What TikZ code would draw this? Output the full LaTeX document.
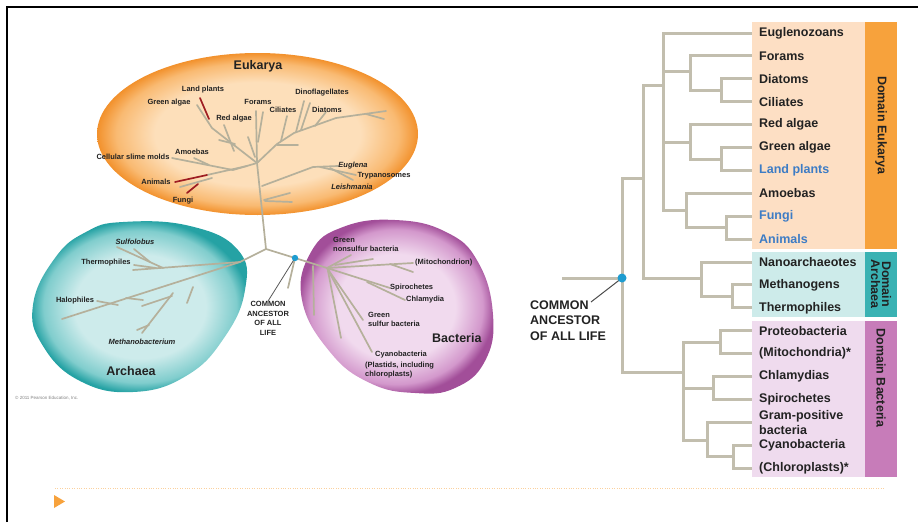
\documentclass[tikz,border=0pt]{standalone}
\usepackage{fontspec}
\setmainfont{Liberation Sans}
\usetikzlibrary{arrows.meta}

\definecolor{branch}{HTML}{B5B09B}
\definecolor{cladeline}{HTML}{C2BEAE}
\definecolor{redbranch}{HTML}{9E1C22}
\definecolor{eukIn}{HTML}{FDDFBA}
\definecolor{eukMid}{HTML}{F9BA72}
\definecolor{eukOut}{HTML}{F2912C}
\definecolor{arcIn}{HTML}{CDEBEB}
\definecolor{arcMid}{HTML}{80CDCD}
\definecolor{arcOut}{HTML}{25A2A4}
\definecolor{bacIn}{HTML}{F1DAEE}
\definecolor{bacMid}{HTML}{D398CC}
\definecolor{bacOut}{HTML}{A24E99}
\definecolor{eukBox}{HTML}{FDDFC4}
\definecolor{eukBar}{HTML}{F7A23C}
\definecolor{arcBox}{HTML}{CDEBEA}
\definecolor{arcBar}{HTML}{3AB2B3}
\definecolor{bacBox}{HTML}{EFDBEE}
\definecolor{bacBar}{HTML}{C77CB9}
\definecolor{leafblue}{HTML}{3D7CC5}
\definecolor{ancdot}{HTML}{1E9CD0}
\definecolor{inkgray}{HTML}{222222}

\pgfdeclareradialshading{eukshade}{\pgfpoint{0bp}{0bp}}{color(0bp)=(eukIn); color(16bp)=(eukIn); color(22bp)=(eukMid); color(25bp)=(eukOut); color(50bp)=(eukOut)}
\pgfdeclareradialshading{arcshade}{\pgfpoint{0bp}{0bp}}{color(0bp)=(arcIn); color(15bp)=(arcIn); color(22bp)=(arcMid); color(25bp)=(arcOut); color(50bp)=(arcOut)}
\pgfdeclareradialshading{bacshade}{\pgfpoint{0bp}{0bp}}{color(0bp)=(bacIn); color(15bp)=(bacIn); color(22bp)=(bacMid); color(25bp)=(bacOut); color(50bp)=(bacOut)}

\begin{document}
\begin{tikzpicture}[x=1pt,y=-1pt,
    twig/.style={branch,line width=1.7pt,line cap=round},
    redtwig/.style={redbranch,line width=1.7pt,line cap=round},
    clade/.style={cladeline,line width=3pt},
    lbl/.style={inner sep=0pt,text=inkgray,font=\fontsize{7.5}{9}\selectfont\bfseries},
    ital/.style={inner sep=0pt,text=inkgray,font=\fontsize{7.5}{9}\selectfont\bfseries\itshape},
    big/.style={inner sep=0pt,text=inkgray,font=\fontsize{12.5}{14}\selectfont\bfseries},
    leaf/.style={anchor=west,inner xsep=7pt,inner ysep=0pt,text=inkgray,
        font=\fontsize{12.5}{14}\selectfont\bfseries},
    domaintag/.style={rotate=-90,align=center,inner sep=0pt,text=inkgray,
        font=\fontsize{12.5}{11}\selectfont\bfseries}]
    \useasboundingbox (0,0) rectangle (918,522);

    % Frame
    \draw[line width=1.6pt] (7,522) -- (7,6.8) -- (918,6.8);

    % Domain blobs
    \shade[shading=eukshade] (257.5,134) ellipse [x radius=160.5,y radius=81];
    \shade[shading=arcshade] plot[smooth cycle,tension=0.75] coordinates
        {(123,222) (190,226) (238,250) (245,290) (224,338) (186,376)
         (133,392) (80,381) (43,346) (33,305) (55,258) (86,232)};
    \shade[shading=bacshade] plot[smooth cycle,tension=0.75] coordinates
        {(302,300) (311,252) (343,227) (395,220) (446,232) (478,262)
         (493,315) (485,361) (455,388) (415,393) (370,383) (330,352)};

    % Unrooted tree
    \coordinate (hub) at (266,249);
    \coordinate (eukRoot) at (257,163);
    \coordinate (arcRoot) at (240,262);
    \coordinate (bacRoot) at (327,268);
    \coordinate (dotL) at (295,258);
    \draw[twig] (hub) -- (eukRoot);
    \draw[twig] (hub) -- (arcRoot);
    \draw[twig] (hub) -- (dotL);
    \draw[twig] (dotL) -- (bacRoot);
    \draw[twig] (dotL) -- (288,288);

    % Eukarya branches
    \draw[twig] (eukRoot) -- (256,111);
    \draw[twig] (258,142) -- (263,112);
    \draw[twig] (255,157) -- (248,137);
    \draw[twig] (eukRoot) -- (212,128) -- (197,105);
    \draw[twig] (234,151) -- (224,125);
    \draw[twig] (219,140) -- (235,144);
    \draw[redtwig] (209,119) -- (200,98);
    \draw[twig] (eukRoot) -- (277,144) -- (294,133) -- (336,118) -- (386,111);
    \draw[twig] (281,141) -- (287,116);
    \draw[twig] (277,145) -- (298,145);
    \draw[twig] (296,132) -- (304,101);
    \draw[twig] (301,130) -- (310,103);
    \draw[twig] (315,126) -- (326,112);
    \draw[twig] (366,114) -- (384,119);
    \draw[twig] (262,186) -- (313,167) -- (338,166);
    \draw[twig] (320,167) -- (356,175);
    \draw[twig] (330,168) -- (353,180);
    \draw[twig] (264,200) -- (290,193);
    \draw[twig] (265,201) -- (292,202);
    \draw[twig] (eukRoot) -- (233,170) -- (172,158);
    \draw[twig] (209,165) -- (194,158);
    \draw[twig] (247,166) -- (207,175);
    \draw[redtwig] (207,175) -- (175,182);
    \draw[twig] (212,178) -- (180,187);
    \draw[redtwig] (198,184) -- (187,193);

    % Archaea branches
    \draw[twig] (arcRoot) -- (133,270);
    \draw[twig] (163,268) -- (117,247);
    \draw[twig] (150,262) -- (134,249);
    \draw[twig] (156,268) -- (134,265);
    \draw[twig] (arcRoot) -- (62,319);
    \draw[twig] (118,305) -- (97,301);
    \draw[twig] (143,300) -- (126,298);
    \draw[twig] (142,306) -- (172,296);
    \draw[twig] (173,293) -- (142,333);
    \draw[twig] (149,325) -- (137,330);
    \draw[twig] (193,287) -- (187,303);

    % Bacteria branches
    \draw[twig] (bacRoot) -- (351,255);
    \draw[twig] (335,265) -- (373,259);
    \draw[twig] (bacRoot) -- (413,263);
    \draw[twig] (390,264) -- (413,272);
    \draw[twig] (bacRoot) -- (390,288);
    \draw[twig] (367,282) -- (405,300);
    \draw[twig] (bacRoot) -- (363,320);
    \draw[twig] (bacRoot) -- (372,352);
    \draw[twig] (313,266) -- (314,315);
    \draw[twig] (328,271) -- (341,338);

    % Left labels
    \node[big] (tEuk) at (258,66) {Eukarya};
    \node[lbl] (tLand) at (203,90) {Land plants};
    \node[lbl] (tGreen) at (169,103) {Green algae};
    \node[lbl] (tRed) at (234,119) {Red algae};
    \node[lbl] (tFor) at (258,102) {Forams};
    \node[lbl] (tCil) at (283,110) {Ciliates};
    \node[lbl] (tDino) at (322,93) {Dinoflagellates};
    \node[lbl] (tDiat) at (327,110) {Diatoms};
    \node[lbl] (tAmo) at (192,152) {Amoebas};
    \node[lbl] (tSlime) at (133,157) {Cellular slime molds};
    \node[lbl] (tAni) at (156,182) {Animals};
    \node[lbl] (tFun) at (183,201) {Fungi};
    \node[ital] (tEug) at (353,166) {Euglena};
    \node[lbl] (tTry) at (384,176) {Trypanosomes};
    \node[ital] (tLei) at (352,187) {Leishmania};
    \node[ital] (tSulf) at (135,242) {Sulfolobus};
    \node[lbl] (tThermL) at (106,263) {Thermophiles};
    \node[lbl] (tHalo) at (75,301) {Halophiles};
    \node[ital] (tMeth) at (142,342) {Methanobacterium};
    \node[big] (tArc) at (131,371) {Archaea};
    \node[lbl,anchor=west,align=left] (tGns) at (333,244.5) {Green\\nonsulfur bacteria};
    \node[lbl,anchor=west] (tMito) at (415,263) {(Mitochondrion)};
    \node[lbl,anchor=west] (tSpir) at (390,288) {Spirochetes};
    \node[lbl,anchor=west] (tChla) at (406,300) {Chlamydia};
    \node[lbl,anchor=west,align=left] (tGsb) at (368,319) {Green\\sulfur bacteria};
    \node[big,anchor=west] (tBac) at (432,338) {Bacteria};
    \node[lbl,anchor=west] (tCyan) at (375,355) {Cyanobacteria};
    \node[lbl,anchor=west,align=left] (tPlas) at (365,370) {(Plastids, including\\chloroplasts)};
    \node[inner sep=0pt,anchor=west,text=gray,font=\fontsize{4.5}{5}\selectfont] (tCopy)
        at (15,398) {\textcopyright{} 2011 Pearson Education, Inc.};

    % Common ancestor (left)
    \node[lbl,align=center,font=\fontsize{7.5}{9.7}\selectfont\bfseries] (ancL)
        at (268,318.5) {COMMON\\ANCESTOR\\OF ALL\\LIFE};
    \draw[gray!70!black,line width=0.8pt] (dotL) -- (ancL.north);
    \fill[ancdot] (dotL) circle (3.2);

    % Domain boxes
    \fill[eukBox] (752,21.5) rectangle (865,248.5);
    \fill[eukBar] (865,21.5) rectangle (897,248.5);
    \fill[arcBox] (752,251.5) rectangle (865,316.5);
    \fill[arcBar] (865,251.5) rectangle (897,316.5);
    \fill[bacBox] (752,321) rectangle (865,476.5);
    \fill[bacBar] (865,321) rectangle (897,476.5);
    \node[domaintag] (dEuk) at (881,125) {Domain Eukarya};
    \node[domaintag] (dArc) at (881,284) {Domain\\Archaea};
    \node[domaintag] (dBac) at (881,378) {Domain Bacteria};

    % Leaves
    \node[leaf] (lEugl) at (752,33.0) {Euglenozoans};
    \node[leaf] (lFor) at (752,55.9) {Forams};
    \node[leaf] (lDia) at (752,78.8) {Diatoms};
    \node[leaf] (lCil) at (752,101.7) {Ciliates};
    \node[leaf] (lRed) at (752,124.6) {Red algae};
    \node[leaf] (lGre) at (752,147.5) {Green algae};
    \node[leaf,text=leafblue] (lLand) at (752,170.4) {Land plants};
    \node[leaf] (lAmo) at (752,193.3) {Amoebas};
    \node[leaf,text=leafblue] (lFun) at (752,216.2) {Fungi};
    \node[leaf,text=leafblue] (lAni) at (752,239.1) {Animals};
    \node[leaf] (lNano) at (752,262.0) {Nanoarchaeotes};
    \node[leaf] (lMeth) at (752,284.9) {Methanogens};
    \node[leaf] (lTherm) at (752,307.8) {Thermophiles};
    \node[leaf] (lProt) at (752,330.7) {Proteobacteria};
    \node[leaf] (lMito) at (752,353.6) {(Mitochondria)*};
    \node[leaf] (lChla) at (752,376.5) {Chlamydias};
    \node[leaf] (lSpir) at (752,399.4) {Spirochetes};
    \node[leaf,align=left,font=\fontsize{12.5}{14.5}\selectfont\bfseries] (lGram)
        at (752,422.3) {Gram-positive\\bacteria};
    \node[leaf] (lCyan) at (752,445.2) {Cyanobacteria};
    \node[leaf] (lChlo) at (752,468.1) {(Chloroplasts)*};

    % Rooted tree
    \coordinate (stem) at (562,278);
    \coordinate (nRoot) at (622,278);
    \coordinate (nEA) at (643,178);
    \coordinate (nEuk) at (663,85);
    \coordinate (nFor) at (690,71);
    \coordinate (nDia) at (721.5,90);
    \coordinate (nRed) at (690,142);
    \coordinate (nGre) at (721.5,159);
    \coordinate (nAmo) at (686.5,210);
    \coordinate (nFun) at (726.5,227.5);
    \coordinate (nArc) at (701.5,278);
    \coordinate (nMet) at (732,296);
    \coordinate (nBac) at (683,372);
    \coordinate (nPro) at (720,342);
    \coordinate (nChl) at (713,388);
    \coordinate (nGra) at (707.5,440);
    \coordinate (nCya) at (733,456.5);
    \draw[clade] (stem) -- (nRoot);
    \draw[clade] (nRoot) |- (nEA);
    \draw[clade] (nRoot) |- (nBac);
    \draw[clade] (nEA) |- (nEuk);
    \draw[clade] (nEA) |- (nArc);
    \draw[clade] (nEuk) |- (lEugl.west);
    \draw[clade] (nEuk) |- (nFor);
    \draw[clade] (nEuk) |- (nRed);
    \draw[clade] (nEuk) |- (nAmo);
    \draw[clade] (nFor) |- (lFor.west);
    \draw[clade] (nFor) |- (nDia);
    \draw[clade] (nDia) |- (lDia.west);
    \draw[clade] (nDia) |- (lCil.west);
    \draw[clade] (nRed) |- (lRed.west);
    \draw[clade] (nRed) |- (nGre);
    \draw[clade] (nGre) |- (lGre.west);
    \draw[clade] (nGre) |- (lLand.west);
    \draw[clade] (nAmo) |- (lAmo.west);
    \draw[clade] (nAmo) |- (nFun);
    \draw[clade] (nFun) |- (lFun.west);
    \draw[clade] (nFun) |- (lAni.west);
    \draw[clade] (nArc) |- (lNano.west);
    \draw[clade] (nArc) |- (nMet);
    \draw[clade] (nMet) |- (lMeth.west);
    \draw[clade] (nMet) |- (lTherm.west);
    \draw[clade] (nBac) |- (nPro);
    \draw[clade] (nBac) |- (nChl);
    \draw[clade] (nBac) |- (nGra);
    \draw[clade] (nPro) |- (lProt.west);
    \draw[clade] (nPro) |- (lMito.west);
    \draw[clade] (nChl) |- (lChla.west);
    \draw[clade] (nChl) |- (lSpir.west);
    \draw[clade] (nGra) |- (lGram.west);
    \draw[clade] (nGra) |- (nCya);
    \draw[clade] (nCya) |- (lCyan.west);
    \draw[clade] (nCya) |- (lChlo.west);

    % Common ancestor (right)
    \coordinate (ancTip) at (591,302);
    \node[anchor=west,align=left,inner sep=0pt,text=inkgray,
        font=\fontsize{12.5}{15.5}\selectfont\bfseries] (ancR)
        at (530,320.5) {COMMON\\ANCESTOR\\OF ALL LIFE};
    \draw[gray!60!black,line width=1pt] (nRoot) -- (ancTip);
    \fill[ancdot] (nRoot) circle (4.5);

    % Footer
    \draw[dotted,eukBar!50] (55,488) -- (885,488);
    \fill[eukBar] (54,495) -- (54,508) -- (65,501.5) -- cycle;
\end{tikzpicture}
\end{document}
